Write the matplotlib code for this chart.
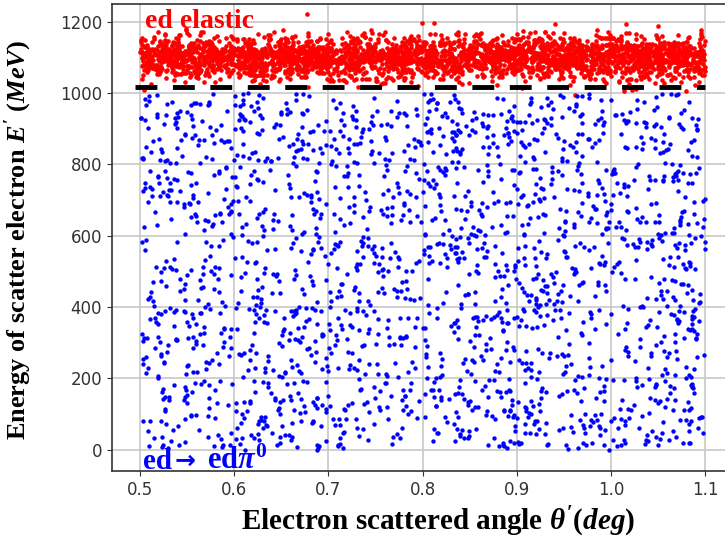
# ed scattering: electron energy vs scattered angle (MC event display)

import numpy as np
import matplotlib.pyplot as plt

plt.rcParams['mathtext.fontset'] = 'custom'
plt.rcParams['mathtext.rm'] = 'Liberation Serif:bold'
plt.rcParams['mathtext.it'] = 'Liberation Serif:italic:bold'
plt.rcParams['mathtext.bf'] = 'Liberation Serif:bold'
plt.rcParams['mathtext.bfit'] = 'Liberation Serif:italic:bold'

# NOTE: the reference shows thousands of simulated events whose individual
# coordinates cannot be read off the picture. Only the ranges, the spread and
# the rough counts below are read from it; the points themselves are drawn
# from a seeded random generator, so they do not reproduce the original events.
angle_range = [0.5, 1.1]          # deg
elastic_center = 1100             # MeV
elastic_spread = 30               # MeV
n_elastic = 3000
pion_energy_range = [0, 1000]     # MeV
n_pion = 2100
cut_energy = 1018                 # MeV, dashed separation line

xticks = [0.5, 0.6, 0.7, 0.8, 0.9, 1.0, 1.1]
yticks = [0, 200, 400, 600, 800, 1000, 1200]

rng = np.random.default_rng(7)
theta_el = rng.uniform(angle_range[0], angle_range[1], n_elastic)
E_el = rng.normal(elastic_center, elastic_spread, n_elastic)
theta_pi = rng.uniform(angle_range[0], angle_range[1], n_pion)
E_pi = rng.uniform(pion_energy_range[0], pion_energy_range[1], n_pion)

fig = plt.figure(figsize=(7.25, 5.44), dpi=100)
ax = fig.add_axes([0.154, 0.134, 0.858, 0.859])

ax.scatter(theta_el, E_el, s=11, color='#ff0000', linewidths=0, zorder=3)
ax.scatter(theta_pi, E_pi, s=10, color='#0000ff', linewidths=0, zorder=3)
ax.hlines(cut_energy, 0.495, 1.1, colors='k', linewidth=3.5,
          linestyles=(0, (4.5, 3.2)), zorder=4)

ax.set_xlim(0.47, 1.13)
ax.set_ylim(-60, 1250)
ax.set_xticks(xticks)
ax.set_yticks(yticks)
ax.grid(True, color='#c8c8c8', linewidth=1.2, zorder=0)
ax.set_axisbelow(True)
ax.tick_params(labelsize=12, labelcolor='#333333', color='#333333')
for sp in ax.spines.values():
    sp.set_color('#333333')
    sp.set_linewidth(1.2)

serif = ['Liberation Serif', 'DejaVu Serif']
ax.set_xlabel(r"Electron scattered angle $\theta^{\prime}(deg)$", fontsize=21,
              fontweight='bold', family=serif)
ax.set_ylabel(r"Energy of scatter electron $E^{\prime}$ $(MeV)$", fontsize=19,
              fontweight='bold', family=serif)
ax.xaxis.set_label_coords(0.524, -0.072)
ax.yaxis.set_label_coords(-0.125, 0.495)

ax.text(0.505, 1182, 'ed elastic', color='#ff0000', fontsize=20,
        fontweight='bold', family=serif, va='baseline')
# channel label, arrow drawn in a heavier sans font
ax.text(0.503, -53, 'ed', color='#0000ff', fontsize=21,
        fontweight='bold', family=serif, va='baseline')
ax.text(0.537, -50, '→', color='#0000ff', fontsize=18,
        fontweight='bold', family='DejaVu Sans', va='baseline')
ax.text(0.571, -53, r'ed$\pi^0$', color='#0000ff', fontsize=22,
        fontweight='bold', family=serif, va='baseline')

fig.savefig('out.png', dpi=100)
